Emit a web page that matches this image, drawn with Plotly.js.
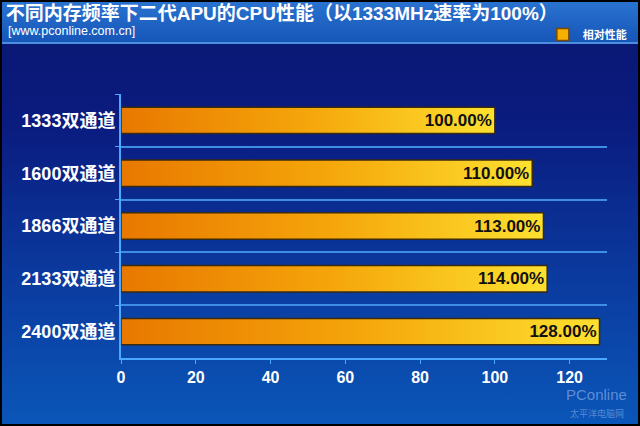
<!DOCTYPE html>
<html><head><meta charset="utf-8">
<script src="https://cdn.plot.ly/plotly-3.0.1.min.js"></script>
<style>
html,body{margin:0;padding:0;width:640px;height:426px;overflow:hidden;background:#000;}
#wrap{position:absolute;left:2px;top:2px;width:636px;height:422px;
 background:linear-gradient(to bottom,#0a1670 0%,#0a1c80 30%,#0b3a9e 65%,#0a56b8 100%);}
#bar{position:absolute;left:0;top:0;width:636px;height:40px;
 background:linear-gradient(to bottom,#2a72d0 0%,#1656b8 100%);border-bottom:2px solid #4a8ee0;}
#chart{position:absolute;left:-2px;top:-2px;width:640px;height:426px;}
</style></head>
<body>
<div id="wrap"><div id="bar"></div></div>
<div id="chart"></div>
<script>
const categories = ["1333双通道","1600双通道","1866双通道","2133双通道","2400双通道"];
const values = [100, 110, 113, 114, 128];
const labels = ["100.00%","110.00%","113.00%","114.00%","128.00%"];
const xTicks = [0,20,40,60,80,100,120];
const seriesName = "相对性能";

const fontFam = '"Liberation Sans", Arial, "Noto Sans CJK SC", sans-serif';

const trace = {
  type: 'bar', orientation: 'h',
  x: values, y: categories, text: labels, name: seriesName,
  textposition: 'inside', insidetextanchor: 'end', constraintext: 'none',
  textfont: {family: fontFam, size: 17, color: '#111', weight: 'bold'},
  marker: {color: '#f5a800', line: {color: '#3a2a10', width: 1.5}},
  width: 0.5, hoverinfo: 'none', cliponaxis: false
};

const layout = {
  width: 640, height: 426,
  paper_bgcolor: 'rgba(0,0,0,0)', plot_bgcolor: 'rgba(0,0,0,0)',
  margin: {l: 123, r: 31, t: 96, b: 66, autoexpand: false},
  font: {family: fontFam, color: '#fff'},
  title: {text: '<b>不同内存频率下二代APU的CPU性能（以1333MHz速率为100%）</b>',
    font: {size: 19, color: '#fff', family: fontFam},
    x: 0.012, xanchor: 'left', y: 0.965, yanchor: 'middle'},
  xaxis: {range: [0, 130], tickvals: xTicks, ticktext: xTicks.map(String),
    showgrid: false, zeroline: false, showline: true, linecolor: '#4aa8ff', linewidth: 2,
    ticks: 'outside', ticklen: 4, tickcolor: '#4aa8ff',
    tickfont: {size: 16, color: '#fff', family: fontFam, weight: 'bold'}},
  yaxis: {type: 'category', categoryorder: 'array', categoryarray: categories,
    autorange: 'reversed', tickson: 'boundaries',
    showgrid: true, gridcolor: '#3f8ee6', gridwidth: 2,
    showline: true, linecolor: '#4aa8ff', linewidth: 2,
    ticks: 'outside', ticklen: 4, tickcolor: '#4aa8ff',
    tickfont: {size: 18, color: '#fff', family: fontFam, weight: 'bold'}},
  showlegend: true,
  legend: {x: 0.868, xanchor: 'left', y: 1.225, yanchor: 'middle',
    bgcolor: 'rgba(0,0,0,0)', font: {size: 11, color: '#fff', family: fontFam, weight: 'bold'},
    itemwidth: 30},
  annotations: [
    {text: '[www.pconline.com.cn]', xref: 'paper', yref: 'paper', x: -0.237, y: 1.237,
     xanchor: 'left', yanchor: 'middle', showarrow: false,
     font: {size: 12.5, color: '#fff', family: fontFam}},
    {text: 'PConline', xref: 'paper', yref: 'paper', x: 1.045, y: -0.1,
     xanchor: 'right', yanchor: 'top', showarrow: false,
     font: {size: 15, color: 'rgba(200,220,255,0.45)', family: fontFam}},
    {text: '太平洋电脑网', xref: 'paper', yref: 'paper', x: 1.04, y: -0.18,
     xanchor: 'right', yanchor: 'top', showarrow: false,
     font: {size: 9, color: 'rgba(200,220,255,0.4)', family: fontFam}}
  ]
};

Plotly.newPlot('chart', [trace], layout, {displayModeBar: false, staticPlot: true}).then(function(gd){
  const svg = gd.querySelector('svg.main-svg');
  const ns = 'http://www.w3.org/2000/svg';
  let defs = svg.querySelector('defs');
  const lg = document.createElementNS(ns, 'linearGradient');
  lg.setAttribute('id', 'barGrad');
  lg.setAttribute('x1', '0'); lg.setAttribute('y1', '0');
  lg.setAttribute('x2', '1'); lg.setAttribute('y2', '0');
  [['0%','#e87800'],['50%','#f5a60a'],['100%','#fde030']].forEach(function(s){
    const st = document.createElementNS(ns, 'stop');
    st.setAttribute('offset', s[0]); st.setAttribute('stop-color', s[1]);
    lg.appendChild(st);
  });
  defs.appendChild(lg);
  gd.querySelectorAll('.barlayer .point path').forEach(function(p){ p.style.fill = 'url(#barGrad)'; });
  gd.querySelectorAll('.legend .legendpoints path').forEach(function(p){ p.style.fill = '#f5b000'; p.style.stroke = '#7a4a00'; });
});
</script>
</body></html>
